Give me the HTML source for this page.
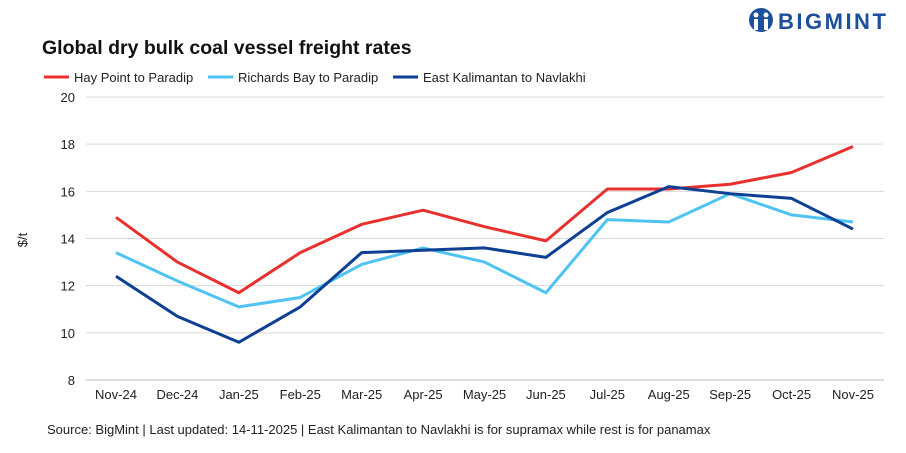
<!DOCTYPE html>
<html><head><meta charset="utf-8">
<style>
body{margin:0;background:#fff;font-family:"Liberation Sans",sans-serif;}
svg{display:block}
</style></head>
<body>
<svg width="906" height="453" viewBox="0 0 906 453">
  <g>
    <circle cx="761" cy="20" r="12" fill="#1d4f9c"/>
    <circle cx="756" cy="15" r="2.5" fill="#fff"/><circle cx="766" cy="15" r="2.5" fill="#fff"/>
    <rect x="754" y="19" width="4" height="11" fill="#fff"/><rect x="764" y="19" width="4" height="11" fill="#fff"/>
    <text x="778" y="29" font-size="22" font-weight="bold" fill="#1d4f9c" letter-spacing="2.5">BIGMINT</text>
  </g>
  <text x="42" y="54" font-size="19.5" font-weight="bold" fill="#111">Global dry bulk coal vessel freight rates</text>
  <g id="legend"></g>
  <g id="grid"></g>
  <text x="27" y="240" font-size="13" fill="#222" transform="rotate(-90 27 240)" text-anchor="middle">$/t</text>
  <g id="series"></g>
  <text x="47" y="434" font-size="13" fill="#222">Source: BigMint | Last updated: 14-11-2025 | East Kalimantan to Navlakhi is for supramax while rest is for panamax</text>
</svg>
<script>
const categories=["Nov-24","Dec-24","Jan-25","Feb-25","Mar-25","Apr-25","May-25","Jun-25","Jul-25","Aug-25","Sep-25","Oct-25","Nov-25"];
const hayPoint=[14.9,13.0,11.7,13.4,14.6,15.2,14.5,13.9,16.1,16.1,16.3,16.8,17.9];
const richardsBay=[13.4,12.2,11.1,11.5,12.9,13.6,13.0,11.7,14.8,14.7,15.9,15.0,14.7];
const eastKalimantan=[12.4,10.7,9.6,11.1,13.4,13.5,13.6,13.2,15.1,16.2,15.9,15.7,14.4];
const yTicks=[8,10,12,14,16,18,20];
const seriesNames=["Hay Point to Paradip","Richards Bay to Paradip","East Kalimantan to Navlakhi"];
const colors=["#e8312f","#4fc3f2","#0d3f93"];
const NS="http://www.w3.org/2000/svg";
const x0=116,x1=853,yTop=97,yBot=380,left=86,right=884;
const xs=i=>x0+(x1-x0)*i/(categories.length-1);
const ys=v=>yBot-(v-8)/(20-8)*(yBot-yTop);
function mk(tag,attrs,parent){const e=document.createElementNS(NS,tag);for(const k in attrs)e.setAttribute(k,attrs[k]);parent.appendChild(e);return e;}
const grid=document.getElementById('grid');
yTicks.forEach(t=>{
  const l=mk('line',{x1:left,x2:right,y1:ys(t),y2:ys(t),stroke:t===8?'#bbb':'#d9d9d9','stroke-width':1},grid);
  
  
  const tx=mk('text',{x:75,y:ys(t)+5,'font-size':13,'text-anchor':'end',fill:'#222'},grid);
  tx.textContent=t;
  
  
});
categories.forEach((c,i)=>{
  const tx=mk('text',{x:xs(i),y:399,'font-size':13,'text-anchor':'middle',fill:'#222'},grid);
  tx.textContent=c;
  
  
});
const ser=document.getElementById('series');
[hayPoint,richardsBay,eastKalimantan].forEach((d,k)=>{
  const p=mk('polyline',{points:d.map((v,i)=>xs(i)+','+ys(v)).join(' '),fill:'none',stroke:colors[k],'stroke-width':3,'stroke-linejoin':'round'},ser);
  
  
});
const leg=document.getElementById('legend');
const lx=[44,208,393];
seriesNames.forEach((n,k)=>{
  const g=mk('g',{},leg);
  
  
  mk('line',{x1:lx[k],x2:lx[k]+25,y1:77,y2:77,stroke:colors[k],'stroke-width':3},g);
  const t=mk('text',{x:lx[k]+30,y:82,'font-size':13,fill:'#222'},g);
  t.textContent=n;
});
</script>
</body></html>
